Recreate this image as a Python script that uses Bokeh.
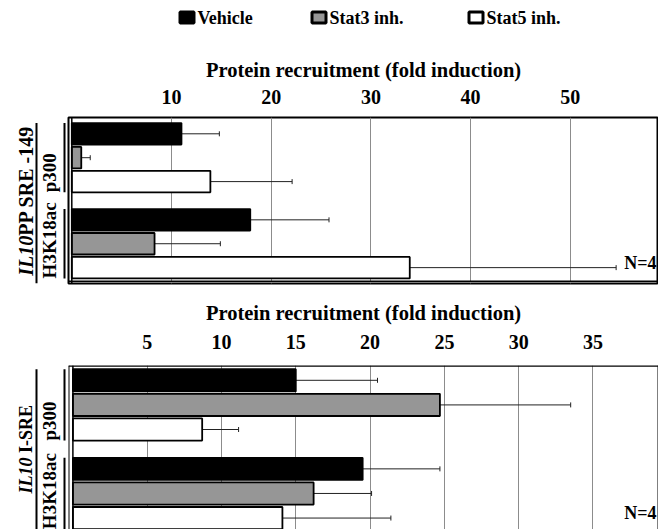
import math
from bokeh.plotting import figure
from bokeh.models import (Range1d, FixedTicker, ColumnDataSource, Whisker, TeeHead,
                          Label, Span)
from bokeh.layouts import column, row
from bokeh.core.properties import value
from bokeh.embed import file_html
from bokeh.resources import INLINE

# ---------------- data ----------------
series = ["Vehicle", "Stat3 inh.", "Stat5 inh."]
groups = ["p300", "H3K18ac"]
fills = ["#000000", "#969696", "#ffffff"]
axis_title = "Protein recruitment (fold induction)"

# panel 1 : IL10PP SRE -149
p1_gene = ["IL10", "PP SRE -149"]
p1_vehicle = [11.0, 17.9]
p1_stat3 = [0.95, 8.3]
p1_stat5 = [13.9, 33.9]
p1_vehicle_err = [3.8, 7.9]
p1_stat3_err = [0.9, 6.6]
p1_stat5_err = [8.2, 20.7]
p1_ticks = [10, 20, 30, 40, 50]

# panel 2 : IL10 I-SRE
p2_gene = ["IL10", "I-SRE"]
p2_vehicle = [15.0, 19.5]
p2_stat3 = [24.7, 16.2]
p2_stat5 = [8.7, 14.1]
p2_vehicle_err = [5.5, 5.2]
p2_stat3_err = [8.8, 3.9]
p2_stat5_err = [2.45, 7.3]
p2_ticks = [5, 10, 15, 20, 25, 30, 35]

n_label = "N=4"

# ---------------- layout ----------------
FONT = "Liberation Serif"
W = 658
LEFT_W = 66
GS = 3.6      # group step (slots)
BAR_H = 0.9


def build_panel(vals, errs, ticks, xr, yr, height, b_top, b_bottom, outline,
                lbl_standoff, ttl_standoff):
    p = figure(width=W - LEFT_W, height=height, x_range=Range1d(*xr), y_range=yr,
               x_axis_location="above", y_axis_location=None,
               toolbar_location=None, output_backend="svg",
               min_border_left=2, min_border_right=0,
               min_border_top=b_top, min_border_bottom=b_bottom)
    p.extra_x_ranges = {"px": Range1d(68, 658)}
    if outline:
        p.outline_line_color = "black"
        p.outline_line_width = 2
    else:
        p.outline_line_color = None
        for loc in (xr[0], xr[1]):
            p.add_layout(Span(location=loc, dimension="height", line_color="black", line_width=2))
        p.add_layout(Span(location=yr.end, dimension="width", line_color="black", line_width=2.5))

    ax = p.xaxis[0]
    ax.ticker = FixedTicker(ticks=ticks)
    ax.axis_label = axis_title
    ax.axis_label_text_font = FONT
    ax.axis_label_text_font_style = "bold"
    ax.axis_label_text_font_size = "20.5px"
    ax.axis_label_text_color = "black"
    ax.axis_label_standoff = ttl_standoff
    ax.major_label_text_font = FONT
    ax.major_label_text_font_style = "bold"
    ax.major_label_text_font_size = "20px"
    ax.major_label_text_color = "black"
    ax.major_label_standoff = lbl_standoff
    ax.major_tick_line_color = None
    ax.minor_tick_line_color = None
    ax.axis_line_color = None

    p.xgrid.ticker = FixedTicker(ticks=ticks)
    p.xgrid.grid_line_color = "#8c8c8c"
    p.xgrid.grid_line_width = 1
    p.ygrid.grid_line_color = None

    for s, name in enumerate(series):
        ys = [g * GS + s for g in range(len(groups))]
        up = [a + b for a, b in zip(vals[s], errs[s])]
        src = ColumnDataSource(dict(y=ys, value=vals[s], upper=up))
        p.hbar(y="y", left=0, right="value", height=BAR_H, source=src,
               fill_color=fills[s], line_color="black", line_width=1.8)
        p.add_layout(Whisker(source=src, base="y", lower="value", upper="upper",
                             dimension="width", lower_head=None,
                             upper_head=TeeHead(size=5, line_color="#222222", line_width=1),
                             line_color="#222222", line_width=1))

    # inner line at zero (double frame line on the left)
    p.add_layout(Span(location=0, dimension="height", line_color="black", line_width=1.5))

    last_c = (len(groups) - 1) * GS + 2
    p.add_layout(Label(x=656, y=last_c - 0.2, x_range_name="px", text=n_label,
                       text_align="right", text_baseline="middle", text_font=FONT,
                       text_font_style="bold", text_font_size="18px", text_color="black"))
    return p


def build_left(gene, gene_fs, gene_w1, gene_total, yr, height, b_top, b_bottom, pps):
    f = figure(width=LEFT_W, height=height, x_range=Range1d(0, LEFT_W), y_range=yr,
               x_axis_location=None, y_axis_location=None,
               toolbar_location=None, output_backend="svg",
               min_border_left=0, min_border_right=0,
               min_border_top=b_top, min_border_bottom=b_bottom)
    f.outline_line_color = None
    f.xgrid.grid_line_color = None
    f.ygrid.grid_line_color = None

    gtops = [g * GS - BAR_H / 2 for g in range(len(groups))]
    gbots = [g * GS + 2 + BAR_H / 2 for g in range(len(groups))]
    # group brackets
    f.segment(x0=[64] * len(groups), y0=gtops, x1=[64] * len(groups), y1=gbots,
              line_color="black", line_width=2)
    # group labels (rotated, starting at the bottom of each group)
    f.text(x=[49] * len(groups), y=gbots, text=groups, angle=math.pi / 2,
           text_align="left", text_baseline="middle", text_font=value(FONT),
           text_font_style="bold", text_font_size="19px", text_color="black")
    # gene bracket
    f.segment(x0=[36], y0=[gtops[0]], x1=[36], y1=[yr.start],
              line_color="black", line_width=2)
    center = (gtops[0] + gbots[-1]) / 2
    y1 = center + (gene_total / 2) / pps
    y2 = y1 - gene_w1 / pps
    f.text(x=[25], y=[y1], text=[gene[0]], angle=math.pi / 2,
           text_align="left", text_baseline="middle", text_font=value(FONT),
           text_font_style="bold italic", text_font_size=gene_fs, text_color="black")
    f.text(x=[25], y=[y2], text=[gene[1]], angle=math.pi / 2,
           text_align="left", text_baseline="middle", text_font=value(FONT),
           text_font_style="bold", text_font_size=gene_fs, text_color="black")
    return f


# top panel
yr1 = Range1d(6.264, -0.682)
top = build_panel([p1_vehicle, p1_stat3, p1_stat5],
                  [p1_vehicle_err, p1_stat3_err, p1_stat5_err], p1_ticks,
                  (-0.331, 58.85), yr1, 246, 77, 3, True, 8, 6)
top.add_layout(Span(location=6.17, dimension="width", line_color="black", line_width=1.5))
top_left = build_left(p1_gene, "20px", 40, 150, yr1, 246, 77, 3, 23.9)

# bottom panel
yr2 = Range1d(6.065, -0.602)
bottom = build_panel([p2_vehicle, p2_stat3, p2_stat5],
                     [p2_vehicle_err, p2_stat3_err, p2_stat5_err], p2_ticks,
                     (-0.296, 39.41), yr2, 243, 79, 0, False, 11, 8)
bottom_left = build_left(p2_gene, "18px", 40.5, 88.5, yr2, 243, 79, 0, 24.6)

# ---------------- legend strip ----------------
lf = figure(width=W, height=40, x_range=Range1d(0, W), y_range=Range1d(40, 0),
            x_axis_location=None, y_axis_location=None, toolbar_location=None,
            output_backend="svg", min_border_left=0, min_border_right=0,
            min_border_top=0, min_border_bottom=0)
lf.outline_line_color = None
lf.xgrid.grid_line_color = None
lf.ygrid.grid_line_color = None
leg_x = [178, 310, 467]
lf.rect(x=[x + 8.5 for x in leg_x], y=[17] * 3, width=14, height=11,
        fill_color=fills, line_color="black", line_width=3)
lf.text(x=[x + 19 for x in leg_x], y=[17.5] * 3, text=series,
        text_align="left", text_baseline="middle", text_font=value(FONT),
        text_font_style="bold", text_font_size="18px", text_color="black")

layout = column(lf, row(top_left, top, spacing=0), row(bottom_left, bottom, spacing=0),
                spacing=0)
open("out.html", "w").write(file_html(layout, INLINE))
